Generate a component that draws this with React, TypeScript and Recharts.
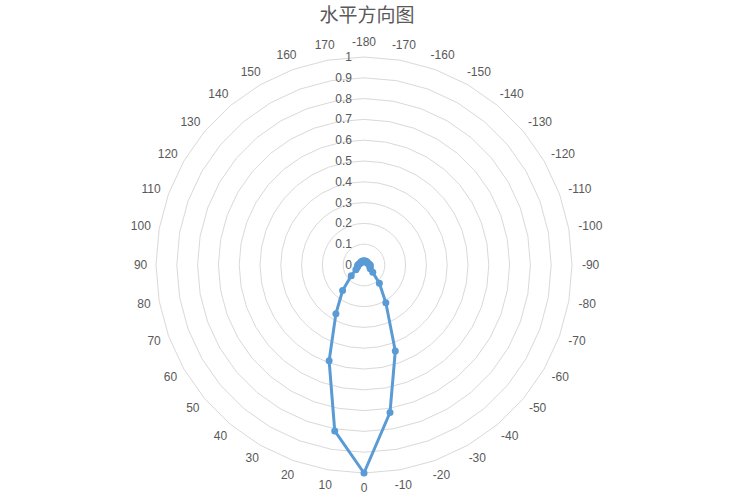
import React from 'react'
import {
  RadarChart,
  Radar,
  PolarGrid,
  PolarAngleAxis,
  PolarRadiusAxis
} from 'recharts'

// angle categories, clockwise from the top
const angles = [
  -180, -170, -160, -150, -140, -130, -120, -110, -100, -90, -80, -70,
  -60, -50, -40, -30, -20, -10, 0, 10, 20, 30, 40, 50,
  60, 70, 80, 90, 100, 110, 120, 130, 140, 150, 160, 170
]

// relative response per angle
const gains = [
  0.015, 0.02, 0.02, 0.02, 0.02, 0.02, 0.02, 0.02, 0.025, 0.03, 0.03, 0.03,
  0.035, 0.055, 0.115, 0.21, 0.44, 0.72, 1.0, 0.81, 0.49, 0.27, 0.16, 0.08,
  0.045, 0.035, 0.03, 0.03, 0.025, 0.02, 0.02, 0.02, 0.02, 0.02, 0.02, 0.02
]

const radiusTicks = [0, 0.1, 0.2, 0.3, 0.4, 0.5, 0.6, 0.7, 0.8, 0.9, 1]

const data = angles.map((a, i) => ({ angle: String(a), value: gains[i] }))

const CX = 364
const CY = 265
const R = 208
const TEXT = '#595959'
const BLUE = '#5B9BD5'
const FONT = '"Liberation Sans", Arial, sans-serif'

const AngleTick = ({ x, y, payload }: any) => {
  const dx = x - CX
  const dy = y - CY
  const len = Math.sqrt(dx * dx + dy * dy) || 1
  const ux = dx / len
  const uy = dy / len
  const label = String(payload.value)
  const w = label.length * 6.4
  const h = 12
  const px = CX + ux * (R + 9) + ux * w / 2
  const py = CY + uy * (R + 9) + uy * h / 2
  return (
    <text
      x={px}
      y={py}
      textAnchor="middle"
      dominantBaseline="central"
      fill={TEXT}
      fontSize={12}
      fontFamily={FONT}
    >
      {label}
    </text>
  )
}

const RadiusTick = ({ x, y, payload }: any) => (
  <text
    x={x - 12}
    y={y}
    textAnchor="end"
    dominantBaseline="central"
    fill={TEXT}
    fontSize={12}
    fontFamily={FONT}
  >
    {String(payload.value)}
  </text>
)

const Dot = (p: any) => (
  <circle key={`dot-${p.index}`} cx={p.cx} cy={p.cy} r={3.5} fill={BLUE} stroke="none" />
)

export default function App() {
  return (
    <div style={{ position: 'fixed', left: 0, top: 0, width: 734, height: 499, background: '#fff' }}>
      <div style={{
        position: 'absolute',
        left: 0,
        right: 0,
        top: 1,
        textAlign: 'center',
        fontSize: 19,
        color: TEXT,
        fontFamily: '"Noto Sans CJK SC", sans-serif',
        lineHeight: '26px'
      }}>
        水平方向图
      </div>
      <RadarChart
        width={734}
        height={499}
        data={data}
        cx={CX}
        cy={CY}
        outerRadius={R}
        margin={{ top: 0, right: 0, bottom: 0, left: 0 }}
      >
        <PolarGrid gridType="polygon" radialLines={false} stroke="#D9D9D9" />
        <PolarAngleAxis
          dataKey="angle"
          tick={<AngleTick />}
          tickLine={false}
          axisLine={false}
        />
        <PolarRadiusAxis
          angle={90}
          domain={[0, 1]}
          ticks={radiusTicks}
          tick={<RadiusTick />}
          axisLine={false}
          tickLine={false}
        />
        <Radar
          dataKey="value"
          stroke={BLUE}
          strokeWidth={3}
          strokeLinejoin="round"
          fill="none"
          fillOpacity={0}
          dot={Dot}
          isAnimationActive={false}
        />
      </RadarChart>
    </div>
  )
}
